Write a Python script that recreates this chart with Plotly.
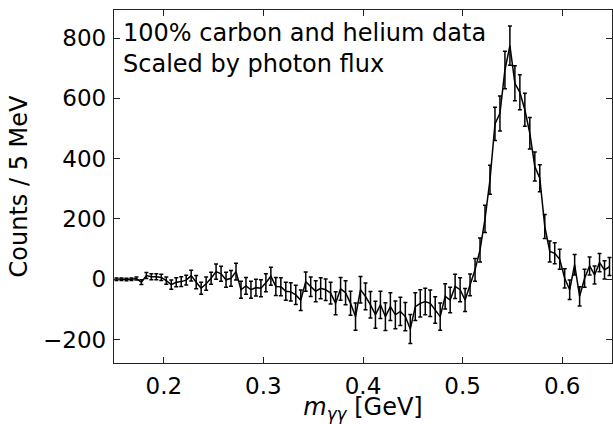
import numpy as np
import plotly.graph_objects as go

bin_width = 0.005
x_start = 0.15
counts = [0, 0, -1, 0, 2, -10, 12, 8, 8, 6,
          -5, -18, -10, -8, -3, 12, -10, -30, -15, 3,
          25, 18, -2, 3, 25, -35, -22, -35, -28, -30,
          -12, 10, -24, -25, -40, -42, -52, -70, -8, -25,
          -40, -30, -35, -46, -80, -32, -45, -80, -124, -35,
          -57, -85, -118, -85, -124, -91, -118, -107, -124, -165,
          -91, -80, -74, -80, -102, -124, -57, -69, -24, -35,
          -69, -19, 31, 97, 200, 330, 515, 550, 694, 775,
          650, 620, 562, 484, 374, 335, 175, 92, 86, 66,
          3, -35, 48, -57, 3, 44, 14, 55, 31, 42]
errors = [4, 4, 4, 4, 5, 8, 10, 10, 10, 10,
          12, 15, 15, 16, 16, 18, 22, 20, 22, 20,
          25, 25, 25, 26, 28, 28, 28, 28, 28, 28,
          30, 30, 30, 30, 30, 30, 32, 34, 32, 32,
          35, 35, 36, 36, 38, 38, 40, 40, 45, 44,
          44, 44, 45, 45, 46, 46, 46, 47, 47, 48,
          46, 45, 44, 44, 44, 45, 42, 42, 40, 40,
          38, 36, 38, 40, 45, 48, 55, 58, 62, 65,
          58, 58, 55, 52, 48, 45, 40, 35, 35, 33,
          32, 32, 34, 32, 30, 30, 30, 30, 30, 30]
centers = [x_start + bin_width * (i + 0.5) for i in range(len(counts))]
x_ticks = [0.2, 0.3, 0.4, 0.5, 0.6]
y_ticks = [-200, 0, 200, 400, 600, 800]

tick_font = dict(family="DejaVu Sans", size=23, color="black")
label_font = dict(family="DejaVu Sans", size=24, color="black")

fig = go.Figure()
fig.add_trace(go.Scatter(
    x=centers, y=counts, mode="lines",
    line=dict(color="black", width=1.5),
    error_y=dict(type="data", array=errors, visible=True,
                 color="black", thickness=1.5, width=2),
    showlegend=False,
))

axis_common = dict(showline=True, linecolor="#222", linewidth=1.3, mirror="allticks",
                   ticks="inside", ticklen=6, tickwidth=1.3, tickcolor="#222",
                   showgrid=False, zeroline=False, tickfont=tick_font, automargin=False)

fig.update_xaxes(range=[0.15, 0.65], tickvals=x_ticks,
                 ticktext=[f"{v:.1f}" for v in x_ticks],
                 ticklabelstandoff=2,
                 title=dict(text="<i>m</i><sub><i>γγ</i></sub> [GeV]", font=label_font, standoff=8),
                 **axis_common)
fig.update_yaxes(range=[-278, 893], tickvals=y_ticks,
                 ticktext=[("\u2212" + str(-v)) if v < 0 else str(v) for v in y_ticks],
                 ticklabelstandoff=2,
                 title=dict(text="Counts / 5 MeV", font=label_font, standoff=8),
                 **axis_common)

fig.add_annotation(xref="paper", yref="paper", x=0.014, y=0.981,
                   xanchor="left", yanchor="top", align="left", showarrow=False,
                   text="100% carbon and helium data<br>Scaled by photon flux",
                   font=label_font)

fig.update_layout(width=613, height=424, margin=dict(l=114, r=1, t=10, b=61),
                  paper_bgcolor="white", plot_bgcolor="white", font=label_font)

fig.write_html("out.html", config={"displayModeBar": False},
               post_script="document.body.style.margin='0';document.body.style.overflow='hidden';")
